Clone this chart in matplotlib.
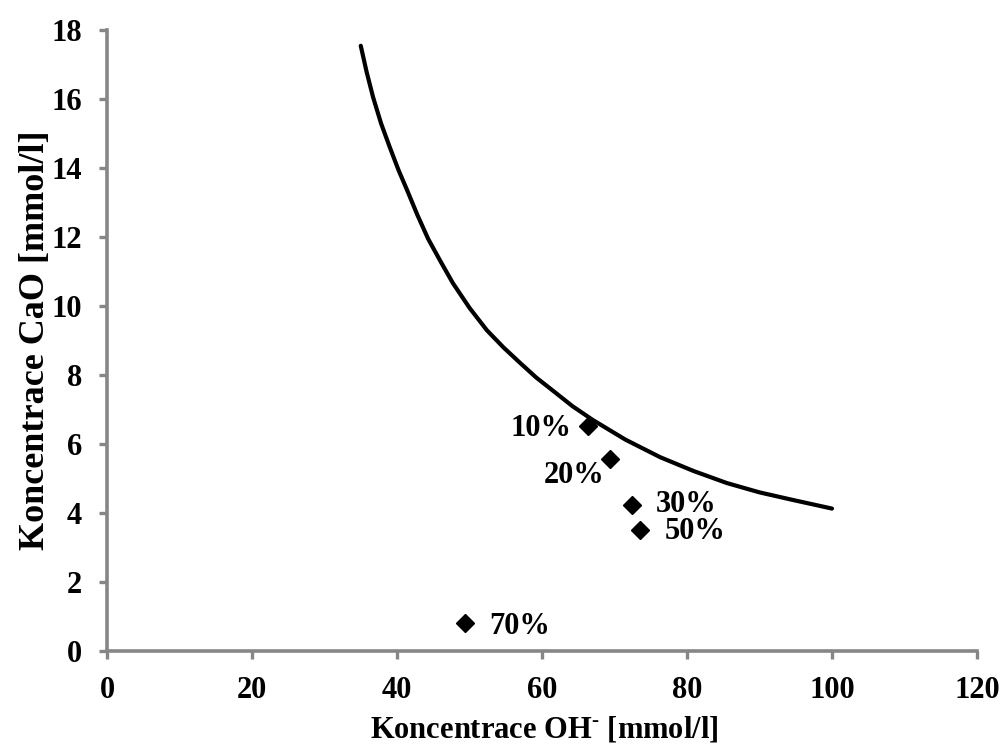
import matplotlib
matplotlib.use("Agg")
import matplotlib.pyplot as plt

plt.rcParams['font.family'] = ['Liberation Serif', 'DejaVu Serif']
plt.rcParams['font.weight'] = 'bold'
plt.rcParams['mathtext.fontset'] = 'custom'
plt.rcParams['mathtext.rm'] = 'Liberation Serif:bold'
plt.rcParams['mathtext.bf'] = 'Liberation Serif:bold'

# Curve
curve_x = [35, 35.8, 36.7, 37.8, 39.0, 40.2, 41.4, 42.8, 44.3, 46.0, 47.7, 50.0, 52.4,
           54.7, 57.0, 59.2, 61.5, 64.2, 67.0, 71.5, 76.3, 80.9, 85.5, 90.0, 94.6, 100]
curve_y = [17.55, 16.8, 16.06, 15.3, 14.61, 13.95, 13.36, 12.65, 11.95, 11.3, 10.67, 9.95, 9.30,
           8.8, 8.35, 7.93, 7.55, 7.1, 6.70, 6.13, 5.62, 5.22, 4.87, 4.6, 4.38, 4.13]

# Measured points
pt_labels = ['10%', '20%', '30%', '50%', '70%']
pt_x = [66.3, 69.4, 72.4, 73.5, 49.4]
pt_y = [6.52, 5.57, 4.22, 3.52, 0.81]

GRAY = '#868686'
FS = 22

fig = plt.figure(figsize=(10, 7.47), dpi=100)
ax = fig.add_axes([0.107, 0.1285, 0.870, 0.831])

ax.plot(curve_x, curve_y, color='black', lw=3, solid_capstyle='round', solid_joinstyle='round')
ax.plot(pt_x, pt_y, linestyle='none', marker='D', ms=9, color='black')

offsets = {
    '10%': (-11.5, -1.5, 'right', 'center'),
    '20%': (-4, -12, 'right', 'center'),
    '30%': (17, 1, 'left', 'center'),
    '50%': (18, -1.5, 'left', 'center'),
    '70%': (17, -2.5, 'left', 'center'),
}
for lab, x, y in zip(pt_labels, pt_x, pt_y):
    dx, dy, ha, va = offsets[lab]
    ax.annotate(lab, (x, y), xytext=(dx, dy), textcoords='offset points',
                ha=ha, va=va, fontsize=FS, fontweight='bold')

ax.set_xlim(0, 120)
ax.set_ylim(0, 18)
ax.set_xticks(range(0, 121, 20))
ax.set_yticks(range(0, 19, 2))

for s in ['top', 'right']:
    ax.spines[s].set_visible(False)
for s in ['left', 'bottom']:
    ax.spines[s].set_color(GRAY)
    ax.spines[s].set_linewidth(2.6)
ax.tick_params(axis='both', which='major', direction='out', length=6, width=2.4,
               color=GRAY, labelsize=FS, pad=12)
for lbl in ax.get_xticklabels() + ax.get_yticklabels():
    lbl.set_fontweight('bold')

ax.set_xlabel(r'Koncentrace OH$^{\text{-}}$ [mmol/l]', fontsize=FS, fontweight='bold')
ax.set_ylabel('Koncentrace CaO [mmol/l]', fontsize=26, fontweight='bold')
ax.xaxis.set_label_coords(0.503, -0.1015)
ax.yaxis.set_label_coords(-0.063, 0.50)

fig.savefig('out.png', dpi=100)
